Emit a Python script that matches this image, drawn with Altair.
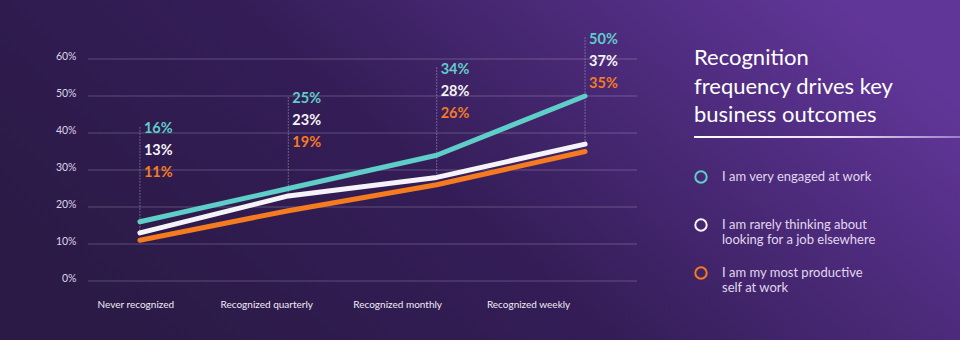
import altair as alt
import pandas as pd

categories = ["Never recognized", "Recognized quarterly", "Recognized monthly", "Recognized weekly"]
series = [
    "I am very engaged at work| ",
    "I am rarely thinking about|looking for a job elsewhere",
    "I am my most productive|self at work",
]
engaged = [16, 25, 34, 50]
not_looking = [13, 23, 28, 37]
productive = [11, 19, 26, 35]
colors = ["#5fcdc8", "#f5f3f8", "#f47b20"]
y_ticks = [0, 10, 20, 30, 40, 50, 60]
title_lines = ["Recognition", "frequency drives key", "business outcomes"]

rows = []
for s, vals in zip(series, [engaged, not_looking, productive]):
    for i, (c, v) in enumerate(zip(categories, vals)):
        rows.append({"series": s, "cat": c, "value": v, "order": i})
df = pd.DataFrame(rows)
wide = pd.DataFrame({"cat": categories, "order": range(4), "engaged": engaged,
                     "not_looking": not_looking, "productive": productive})
cat_df = pd.DataFrame({"cat": categories})
tick_df = pd.DataFrame({"v": y_ticks})
one = pd.DataFrame({"a": [0]})

W, H = 549, 222
FONT = "Lato"
xscale = alt.Scale(type="point", padding=0.35)
yscale = alt.Scale(domain=[0, 60])
X = alt.X("cat:N", sort=categories, scale=xscale, axis=None)
yaxis = alt.Axis(values=y_ticks, grid=False, domain=False, ticks=False, zindex=1,
                 labelExpr="datum.value + '%'", labelFont=FONT, labelFontSize=10.5,
                 labelColor="#dcd5ea", labelPadding=12, labelBaseline="alphabetic")


def Y(field):
    return alt.Y(field, scale=yscale, axis=yaxis, title=None)


bg = alt.Chart(one).mark_rect(
    color=alt.Gradient(
        gradient="linear",
        stops=[
            alt.GradientStop(offset=0, color="#2a1a45"),
            alt.GradientStop(offset=0.45, color="#341d57"),
            alt.GradientStop(offset=1, color="#613699"),
        ],
        x1=0, y1=0.7, x2=1, y2=0.3,
    )
).encode(x=alt.value(-88), x2=alt.value(872), y=alt.value(-59), y2=alt.value(281))

grid = alt.Chart(tick_df).mark_rule(color="#ffffff", opacity=0.22, strokeWidth=1).encode(
    y=Y("v:Q")
)

anchor_expr = "41.5 + 8.1 * datum.order"

dots = alt.Chart(wide).transform_calculate(anchor=anchor_expr).mark_rule(
    color="#c9c0da", strokeDash=[1, 2], strokeWidth=1, opacity=0.8
).encode(x=X, y=Y("anchor:Q"), y2="not_looking:Q")

lines = alt.Chart(df).mark_line(strokeWidth=5, strokeCap="round", strokeJoin="round").encode(
    x=X,
    y=Y("value:Q"),
    color=alt.Color(
        "series:N", sort=series, scale=alt.Scale(domain=series, range=colors),
        legend=alt.Legend(
            orient="none", legendX=606, legendY=-11, padding=0,
            title=title_lines, titleFont=FONT, titleFontSize=22, titleFontWeight="normal",
            titleColor="#ffffff", titleLineHeight=28.5, titlePadding=43, titleLimit=400,
            labelFont=FONT, labelFontSize=13, labelColor="#e0d8ee", labelLimit=400,
            labelExpr="split(datum.label, '|')", labelOffset=14,
            symbolType="circle", symbolSize=130, symbolStrokeWidth=2,
            symbolFillColor="transparent", rowPadding=16,
        ),
    ),
)

texts = []
for s, dy, col in zip(series, [2, 24, 46], colors):
    t = alt.Chart(df).transform_filter(alt.datum.series == s).transform_calculate(
        anchor=anchor_expr, label="datum.value + '%'"
    ).mark_text(align="left", baseline="middle", dx=4, dy=dy, font=FONT, fontSize=14.5,
                fontWeight="bold", color=col).encode(
        x=X, y=Y("anchor:Q"), text="label:N",
    )
    texts.append(t)

data_layer = alt.layer(grid, dots, lines, *texts)

axis_layer = alt.Chart(cat_df).mark_point(opacity=0).encode(
    x=alt.X("cat:N", sort=categories,
            scale=alt.Scale(type="point", padding=0.597, align=0.303),
            axis=alt.Axis(orient="bottom", title=None, domain=False, ticks=False, grid=False,
                          zindex=1, labelAngle=0, labelFont=FONT, labelFontSize=10,
                          labelColor="#f0ecf5", labelPadding=18, labelLimit=200))
)

underline = alt.Chart(one).mark_rect(
    color=alt.Gradient(
        gradient="linear",
        stops=[
            alt.GradientStop(offset=0, color="#ffffff"),
            alt.GradientStop(offset=0.55, color="#e8e0f2"),
            alt.GradientStop(offset=1, color="#9a7fc8"),
        ],
        x1=0, y1=0, x2=1, y2=0,
    )
).encode(x=alt.value(606), x2=alt.value(872), y=alt.value(77), y2=alt.value(79))

chart = alt.layer(bg, data_layer, axis_layer, underline).resolve_scale(
    x="independent"
).properties(width=W, height=H, padding=0, background="#2a1a45").configure_view(stroke=None)

chart.save("out.html", embed_options={"renderer": "svg", "actions": False})
